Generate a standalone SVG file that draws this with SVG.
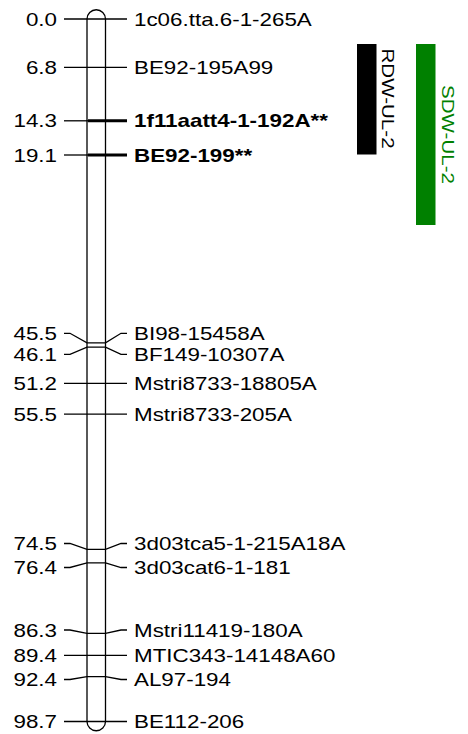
<svg xmlns="http://www.w3.org/2000/svg" width="468" height="734" viewBox="0 0 468 734">
<style>
text{font-family:"Liberation Sans",Arial,sans-serif;font-size:18.5px;fill:#000}
.l{text-anchor:end}
.b{font-weight:bold}
.t{stroke:#000;stroke-width:1.3;fill:none}
.k{stroke:#000;stroke-width:3;fill:none}
.q{font-size:17px;text-anchor:middle}
</style>
<rect width="468" height="734" fill="#fff"/>
<g id="chromosome">
<path d="M87,19 A9.25,9.25 0 0 1 105.5,19 L105.5,721.5 A9.25,9.25 0 0 1 87,721.5 Z" fill="#fff" stroke="#000" stroke-width="1.3"/>
</g>
<g id="connectors">
<path class="t" d="M64,19 H127"/>
<path class="t" d="M64,67.4 H127"/>
<path class="t" d="M64,120.8 H88"/><path class="k" d="M88,120.8 H127"/>
<path class="t" d="M64,155 H88"/><path class="k" d="M88,155 H127"/>
<path class="t" d="M64,333.3 L70,333.3 L87,342.9 H105.5 L121,333.3 H127"/>
<path class="t" d="M64,354.3 L70,354.3 L87,347.1 H105.5 L121,354.3 H127"/>
<path class="t" d="M64,383.4 H127"/>
<path class="t" d="M64,414.1 H127"/>
<path class="t" d="M64,543.5 L70,543.5 L87,549.3 H105.5 L121,543.5 H127"/>
<path class="t" d="M64,567.5 L70,567.5 L87,562.8 H105.5 L121,567.5 H127"/>
<path class="t" d="M64,630 L70,630 L87,633.3 H105.5 L121,630 H127"/>
<path class="t" d="M64,655.4 H127"/>
<path class="t" d="M64,679.5 L70,679.5 L87,676.7 H105.5 L121,679.5 H127"/>
<path class="t" d="M64,721.5 H127"/>
</g>
<g id="m1"><text class="l" transform="translate(57,25.6) scale(1.21,1)">0.0</text><text transform="translate(134,25.6) scale(1.21,1)">1c06.tta.6-1-265A</text></g>
<g id="m2"><text class="l" transform="translate(57,74) scale(1.21,1)">6.8</text><text transform="translate(134,74) scale(1.21,1)">BE92-195A99</text></g>
<g id="m3"><text class="l" transform="translate(57,127.4) scale(1.21,1)">14.3</text><text class="b" transform="translate(134,127.4) scale(1.21,1)">1f11aatt4-1-192A**</text></g>
<g id="m4"><text class="l" transform="translate(57,161.6) scale(1.21,1)">19.1</text><text class="b" transform="translate(134,161.6) scale(1.21,1)">BE92-199**</text></g>
<g id="m5"><text class="l" transform="translate(57,339.9) scale(1.21,1)">45.5</text><text transform="translate(134,339.9) scale(1.21,1)">BI98-15458A</text></g>
<g id="m6"><text class="l" transform="translate(57,360.9) scale(1.21,1)">46.1</text><text transform="translate(134,360.9) scale(1.21,1)">BF149-10307A</text></g>
<g id="m7"><text class="l" transform="translate(57,390) scale(1.21,1)">51.2</text><text transform="translate(134,390) scale(1.21,1)">Mstri8733-18805A</text></g>
<g id="m8"><text class="l" transform="translate(57,420.7) scale(1.21,1)">55.5</text><text transform="translate(134,420.7) scale(1.21,1)">Mstri8733-205A</text></g>
<g id="m9"><text class="l" transform="translate(57,550.1) scale(1.21,1)">74.5</text><text transform="translate(134,550.1) scale(1.21,1)">3d03tca5-1-215A18A</text></g>
<g id="m10"><text class="l" transform="translate(57,574.1) scale(1.21,1)">76.4</text><text transform="translate(134,574.1) scale(1.21,1)">3d03cat6-1-181</text></g>
<g id="m11"><text class="l" transform="translate(57,636.6) scale(1.21,1)">86.3</text><text transform="translate(134,636.6) scale(1.21,1)">Mstri11419-180A</text></g>
<g id="m12"><text class="l" transform="translate(57,662) scale(1.21,1)">89.4</text><text transform="translate(134,662) scale(1.21,1)">MTIC343-14148A60</text></g>
<g id="m13"><text class="l" transform="translate(57,686.1) scale(1.21,1)">92.4</text><text transform="translate(134,686.1) scale(1.21,1)">AL97-194</text></g>
<g id="m14"><text class="l" transform="translate(57,728.1) scale(1.21,1)">98.7</text><text transform="translate(134,728.1) scale(1.21,1)">BE112-206</text></g>
<g id="qtl-rdw">
<rect x="357" y="44" width="19.5" height="110.5" fill="#000"/>
<text class="q" transform="translate(381.5,98.5) rotate(90) scale(1.21,1)">RDW-UL-2</text>
</g>
<g id="qtl-sdw">
<rect x="416" y="44" width="19.5" height="181" fill="#008000"/>
<text class="q" transform="translate(441.5,134.5) rotate(90) scale(1.21,1)" style="fill:#008000">SDW-UL-2</text>
</g>
</svg>
